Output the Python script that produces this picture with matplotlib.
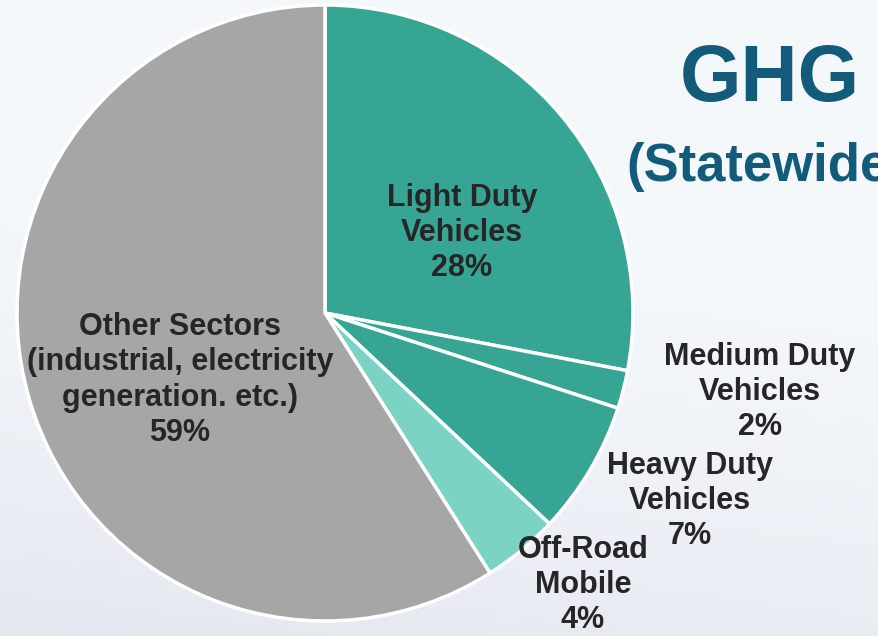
import numpy as np
import matplotlib
matplotlib.use("Agg")
import matplotlib.pyplot as plt

# Data
categories = ["Light Duty\nVehicles", "Medium Duty\nVehicles", "Heavy Duty\nVehicles",
              "Off-Road\nMobile", "Other Sectors\n(industrial, electricity\ngeneration. etc.)"]
values = [28, 2, 7, 4, 59]
colors = ["#37A593", "#37A593", "#37A593", "#7AD3C3", "#A6A6A6"]

W, H = 879, 636
fig = plt.figure(figsize=(W / 100, H / 100), dpi=100)
ax = fig.add_axes([0, 0, 1, 1])

# background gradient
yy, xx = np.mgrid[0:1:200j, 0:1:200j]
top = np.array([0.957, 0.973, 0.988])
bot = np.array([0.895, 0.905, 0.935])
t = np.clip((1 - yy) * 0.85 + (1 - xx) * 0.15 - 0.35, 0, 1)[..., None] / 0.65
t = np.clip(t, 0, 1) ** 1.5
img = top * (1 - t) + bot * t
ax.imshow(img, extent=[0, W, H, 0], origin="upper", zorder=0, aspect="auto")

cx, cy, r = 325, H - 313, 308
ax.pie(values, colors=colors, startangle=90, counterclock=False,
       center=(cx, cy), radius=r, frame=True,
       wedgeprops=dict(edgecolor="white", linewidth=2.5))
ax.set_xlim(0, W)
ax.set_ylim(0, H)
ax.set_aspect("equal")
ax.axis("off")

font = "Liberation Sans"
lab_color = "#262626"
label_pos = [(462, 233), (760, 392), (690, 501), (583, 585), (180, 380)]
for cat, v, (px, py) in zip(categories, values, label_pos):
    ax.text(px, H - py, f"{cat}\n{v}%", ha="center", va="center",
            fontsize=22, fontweight="bold", family=font, color=lab_color,
            linespacing=1.22, zorder=5)

ax.text(770, H - 80, "GHG", ha="center", va="center", fontsize=57,
        fontweight="bold", family=font, color="#135B7A", zorder=5)
ax.text(626, H - 167, "(Statewide)", ha="left", va="center", fontsize=38,
        fontweight="bold", family=font, color="#135B7A", zorder=5)

fig.savefig("out.png", dpi=100)
